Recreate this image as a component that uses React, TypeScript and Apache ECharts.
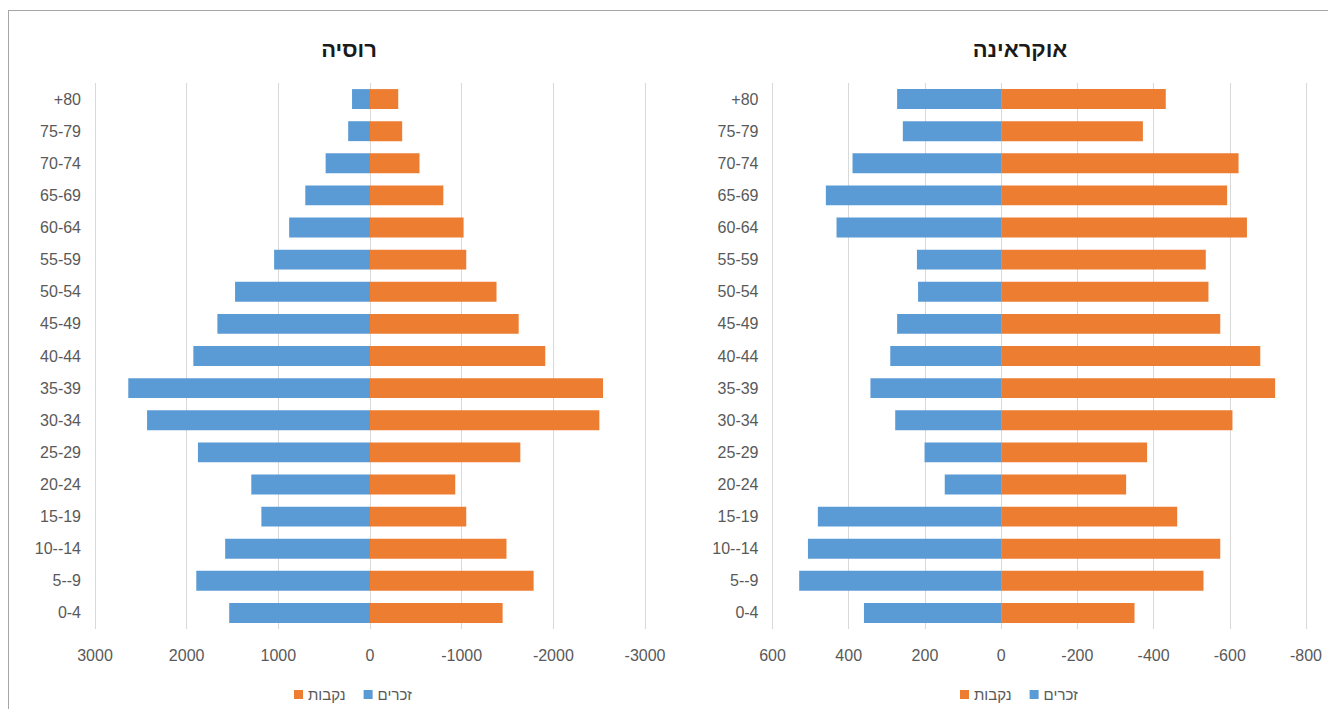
import React, { useEffect, useRef } from "react";
import * as echarts from "echarts";

const categories = ["0-4", "5--9", "10--14", "15-19", "20-24", "25-29", "30-34", "35-39", "40-44", "45-49", "50-54", "55-59", "60-64", "65-69", "70-74", "75-79", "+80"];

const russiaMales = [1536, 1895, 1580, 1185, 1295, 1877, 2432, 2637, 1927, 1665, 1472, 1046, 882, 706, 484, 238, 196];
const russiaFemales = [-1447, -1785, -1489, -1050, -930, -1640, -2502, -2542, -1912, -1622, -1380, -1050, -1021, -800, -540, -351, -308];

const ukraineMales = [360, 530, 507, 481, 148, 201, 278, 343, 291, 273, 218, 221, 432, 460, 390, 258, 273];
const ukraineFemales = [-350, -531, -575, -462, -328, -383, -607, -719, -680, -575, -544, -537, -645, -593, -623, -372, -432];

const titleRussia = "רוסיה";
const titleUkraine = "אוקראינה";
const nameMales = "זכרים";
const nameFemales = "נקבות";

const FONT = "'Liberation Sans', 'DejaVu Sans', sans-serif";
const BLUE = "#5b9bd5";
const ORANGE = "#ed7d31";
const LABEL = "#595959";

export default function App() {
  const ref = useRef<HTMLDivElement>(null);
  useEffect(() => {
    if (!ref.current) return;
    const chart = echarts.init(ref.current, undefined, { renderer: "svg" });
    const axisX = (min: number, max: number, interval: number, gridIndex: number) => ({
      type: "value",
      gridIndex,
      min,
      max,
      interval,
      inverse: true,
      axisLine: { show: false },
      axisTick: { show: false },
      splitLine: { show: true, lineStyle: { color: "#d9d9d9", width: 1 } },
      axisLabel: {
        color: LABEL,
        fontSize: 16,
        fontFamily: FONT,
        margin: 18,
        formatter: (v: number) => String(v),
      },
    });
    const axisY = (gridIndex: number) => ({
      type: "category",
      gridIndex,
      data: categories,
      axisLine: { show: false },
      axisTick: { show: false },
      splitLine: { show: false },
      axisLabel: { color: LABEL, fontSize: 16, fontFamily: FONT, margin: 14 },
    });
    const bar = (name: string, data: number[], idx: number, color: string) => ({
      type: "bar",
      name,
      data,
      xAxisIndex: idx,
      yAxisIndex: idx,
      stack: "s" + idx,
      barCategoryGap: "38%",
      itemStyle: { color },
    });
    const titleStyle = { fontSize: 22, fontWeight: "bold", color: "#1a1a1a", fontFamily: FONT };
    chart.setOption({
      animation: false,
      backgroundColor: "#ffffff",
      title: [
        { text: titleRussia, left: 335, top: 22, textAlign: "center", textStyle: titleStyle },
        { text: titleUkraine, left: 1006, top: 22, textAlign: "center", textStyle: titleStyle },
      ],
      legend: [
        {
          data: [nameFemales, nameMales],
          left: 280,
          top: 671,
          itemWidth: 9,
          itemHeight: 9,
          itemGap: 18,
          icon: "rect",
          textStyle: { color: LABEL, fontSize: 15, fontFamily: FONT },
          selectedMode: false,
        },
        {
          data: [nameFemales, nameMales],
          left: 946,
          top: 671,
          itemWidth: 9,
          itemHeight: 9,
          itemGap: 18,
          icon: "rect",
          textStyle: { color: LABEL, fontSize: 15, fontFamily: FONT },
          selectedMode: false,
        },
      ],
      grid: [
        { left: 86, top: 72, width: 550, height: 546 },
        { left: 763.5, top: 72, width: 533.5, height: 546 },
      ],
      xAxis: [axisX(-3000, 3000, 1000, 0), axisX(-800, 600, 200, 1)],
      yAxis: [axisY(0), axisY(1)],
      series: [
        bar(nameMales, russiaMales, 0, BLUE),
        bar(nameFemales, russiaFemales, 0, ORANGE),
        bar(nameMales, ukraineMales, 1, BLUE),
        bar(nameFemales, ukraineFemales, 1, ORANGE),
      ],
    });
    return () => chart.dispose();
  }, []);
  return (
    <div style={{ marginTop: 2, borderLeft: "1px solid #a6a6a6", borderTop: "1px solid #a6a6a6", width: 1320, height: 698 }}>
      <div ref={ref} style={{ width: 1320, height: 698 }} />
    </div>
  );
}
